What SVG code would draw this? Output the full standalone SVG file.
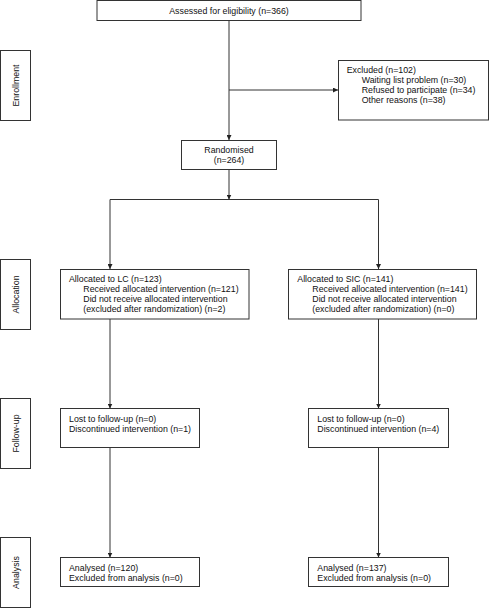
<svg xmlns="http://www.w3.org/2000/svg" width="489" height="608" viewBox="0 0 489 608">
<defs>
<marker id="ah" viewBox="0 0 5 5" refX="5" refY="2.5" markerWidth="5" markerHeight="5" markerUnits="userSpaceOnUse" orient="auto">
<path d="M0,0 L5,2.5 L0,5 Z" fill="#222"/>
</marker>
<style>
rect{fill:#fff;stroke:#333;stroke-width:1}
text{font-family:"Liberation Sans",Arial,sans-serif;font-size:8.8px;fill:#111}
.c{text-anchor:middle}
.ln{fill:none;stroke:#333;stroke-width:1}
.a{marker-end:url(#ah)}
</style>
</defs>
<rect width="489" height="608" style="fill:#fff;stroke:none"/>
<g id="connectors">
<path class="ln a" d="M229,20.5 V140"/>
<path class="ln a" d="M229,90 H338"/>
<path class="ln a" d="M229,169.5 V199.5"/>
<path class="ln" d="M110,199.5 H378.5"/>
<path class="ln a" d="M110,199.5 V269"/>
<path class="ln a" d="M378.5,199.5 V269"/>
<path class="ln a" d="M110,319 V408.5"/>
<path class="ln a" d="M378.5,319 V408.5"/>
<path class="ln a" d="M110,448 V557.5"/>
<path class="ln a" d="M378.5,448 V557.5"/>
</g>
<g id="lbl-enrollment"><rect x="0.5" y="50.5" width="30" height="70"/><text class="c" transform="translate(18.5,85.5) rotate(-90)">Enrollment</text></g>
<g id="lbl-allocation"><rect x="0.5" y="259.5" width="30" height="70"/><text class="c" transform="translate(18.5,294.5) rotate(-90)">Allocation</text></g>
<g id="lbl-followup"><rect x="0.5" y="398.5" width="30" height="70"/><text class="c" transform="translate(18.5,433.5) rotate(-90)">Follow-up</text></g>
<g id="lbl-analysis"><rect x="0.5" y="537.5" width="30" height="70"/><text class="c" transform="translate(18.5,572.5) rotate(-90)">Analysis</text></g>
<g id="assessed"><rect x="97" y="0.5" width="264" height="20"/><text class="c" x="229" y="13.5">Assessed for eligibility (n=366)</text></g>
<g id="excluded"><rect x="338.5" y="60.5" width="150" height="59.5"/>
<text x="346.7" y="73">Excluded (n=102)</text>
<text x="361.7" y="83">Waiting list problem (n=30)</text>
<text x="361.7" y="93">Refused to participate (n=34)</text>
<text x="361.7" y="103">Other reasons (n=38)</text></g>
<g id="randomised"><rect x="181.5" y="140.5" width="95" height="29"/><text class="c" x="229" y="153">Randomised</text><text class="c" x="229" y="163">(n=264)</text></g>
<g id="alloc-lc"><rect x="60.5" y="269.5" width="188.5" height="49.5"/>
<text x="69" y="282">Allocated to LC (n=123)</text>
<text x="83.3" y="292">Received allocated intervention (n=121)</text>
<text x="83.3" y="302">Did not receive allocated intervention</text>
<text x="83.3" y="312">(excluded after randomization) (n=2)</text></g>
<g id="alloc-sic"><rect x="288.5" y="269.5" width="188" height="49.5"/>
<text x="297.3" y="282">Allocated to SIC (n=141)</text>
<text x="312.3" y="292">Received allocated intervention (n=141)</text>
<text x="312.3" y="302">Did not receive allocated intervention</text>
<text x="312.3" y="312">(excluded after randomization) (n=0)</text></g>
<g id="follow-lc"><rect x="60.5" y="408.5" width="139" height="39"/>
<text x="69" y="421.5">Lost to follow-up (n=0)</text>
<text x="69" y="431.5">Discontinued intervention (n=1)</text></g>
<g id="follow-sic"><rect x="308.5" y="408.5" width="140" height="39"/>
<text x="317.3" y="421.5">Lost to follow-up (n=0)</text>
<text x="317.3" y="431.5">Discontinued intervention (n=4)</text></g>
<g id="analysis-lc"><rect x="60.5" y="557.5" width="139" height="29"/>
<text x="69" y="570.5">Analysed (n=120)</text>
<text x="69" y="580.5">Excluded from analysis (n=0)</text></g>
<g id="analysis-sic"><rect x="308.5" y="557.5" width="140" height="29"/>
<text x="317.3" y="570.5">Analysed (n=137)</text>
<text x="317.3" y="580.5">Excluded from analysis (n=0)</text></g>
</svg>
